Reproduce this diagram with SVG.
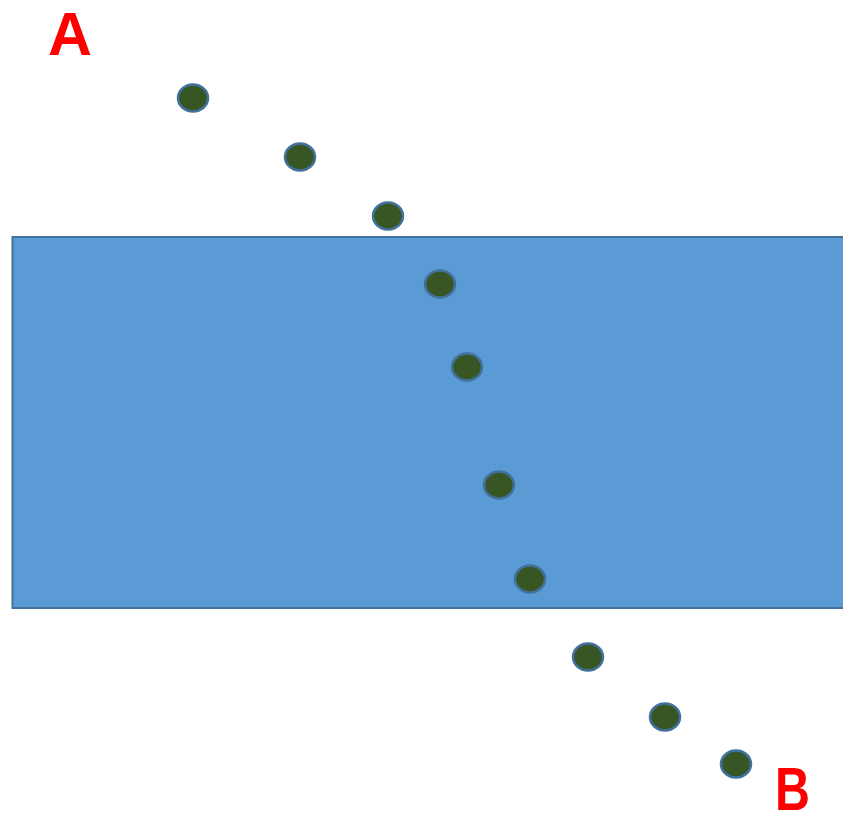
<svg xmlns="http://www.w3.org/2000/svg" width="843" height="814" viewBox="0 0 843 814">
<style>
.dot{fill:#375623;stroke:#41719C;stroke-width:2.5}
.lbl{fill:#FF0000;font-family:"Liberation Sans",Arial,sans-serif;font-weight:bold;font-size:62px}
</style>
<rect width="843" height="814" fill="#fff"/>
<g id="water"><rect x="12.5" y="237" width="840" height="371" fill="#5B9BD5" stroke="#41719C" stroke-width="2"/></g>
<g id="labelA"><text class="lbl" x="48" y="55" textLength="44" lengthAdjust="spacingAndGlyphs">A</text></g>
<g id="labelB"><text class="lbl" x="775" y="810" textLength="35" lengthAdjust="spacingAndGlyphs">B</text></g>
<g id="dots">
<ellipse id="d1" class="dot" cx="193" cy="98" rx="15" ry="13.5"/>
<ellipse id="d2" class="dot" cx="300" cy="157" rx="15" ry="13.5"/>
<ellipse id="d3" class="dot" cx="388" cy="216" rx="15" ry="13.5"/>
<ellipse id="d4" class="dot" cx="440" cy="284" rx="15" ry="13.5"/>
<ellipse id="d5" class="dot" cx="467" cy="367" rx="15" ry="13.5"/>
<ellipse id="d6" class="dot" cx="499" cy="485" rx="15" ry="13.5"/>
<ellipse id="d7" class="dot" cx="530" cy="579" rx="15" ry="13.5"/>
<ellipse id="d8" class="dot" cx="588" cy="657" rx="15" ry="13.5"/>
<ellipse id="d9" class="dot" cx="665" cy="717" rx="15" ry="13.5"/>
<ellipse id="d10" class="dot" cx="736" cy="764" rx="15" ry="13.5"/>
</g>
</svg>
